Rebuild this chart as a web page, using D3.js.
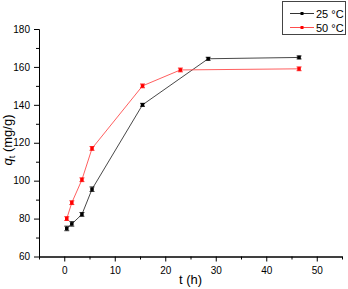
<!DOCTYPE html>
<html>
<head>
<meta charset="utf-8">
<script src="https://cdn.jsdelivr.net/npm/d3@7"></script>
<style>
  body { margin: 0; background: #fff; }
  svg { display: block; font-family: "Liberation Sans", Arial, sans-serif; }
</style>
</head>
<body>
<div class="chart"></div>
<script>
// series data
const seriesNames = ["25 °C", "50 °C"];
const time25 = [0.5, 1.5, 3.5, 5.5, 15.5, 28.5, 46.5];
const q25 = [74.8, 77.2, 82.2, 95.5, 140, 164.3, 165];
const err25 = [1.2, 1.2, 1, 1.2, 0.8, 0.8, 0.8];
const time50 = [0.5, 1.5, 3.5, 5.5, 15.5, 23, 46.5];
const q50 = [80, 88.4, 100.5, 117, 150, 158.4, 159];
const err50 = [1, 1, 1, 1, 1, 1, 1];
const xTicks = [0, 10, 20, 30, 40, 50];
const yTicks = [60, 80, 100, 120, 140, 160, 180];

const width = 348;
const height = 289;

const svg = d3.select('.chart')
  .append('svg')
  .attr('width', width)
  .attr('height', height);

const x = d3.scaleLinear().domain([-5, 55]).range([39, 342]);
const y = d3.scaleLinear().domain([60, 180]).range([256.5, 29]);

// axes, major + minor ticks
const xAxis = d3.axisBottom(x).tickValues(xTicks).tickSize(5).tickSizeOuter(0);
const xMinor = d3.axisBottom(x).tickValues(d3.range(-5, 56, 10)).tickSize(3).tickFormat('').tickSizeOuter(0);
const yAxis = d3.axisLeft(y).tickValues(yTicks).tickSize(5).tickSizeOuter(0);
const yMinor = d3.axisLeft(y).tickValues(d3.range(70, 180, 20)).tickSize(3).tickFormat('').tickSizeOuter(0);

const gx = svg.append('g').attr('transform', `translate(0,${y(60)})`).call(xAxis);
svg.append('g').attr('transform', `translate(0,${y(60)})`).call(xMinor);
const gy = svg.append('g').attr('transform', `translate(${x(-5)},0)`).call(yAxis);
svg.append('g').attr('transform', `translate(${x(-5)},0)`).call(yMinor);

svg.selectAll('.domain, .tick line').attr('stroke', '#000').attr('stroke-width', 1);
gx.selectAll('text').attr('font-size', 10).attr('fill', '#000').attr('dy', '0.9em');
gy.selectAll('text').attr('font-size', 10).attr('fill', '#000').attr('dx', '-0.1em');

// axis titles
svg.append('text')
  .attr('x', x(25))
  .attr('y', 284)
  .attr('text-anchor', 'middle')
  .attr('font-size', 13)
  .text('t (h)');

const yl = svg.append('text')
  .attr('transform', 'translate(12,140) rotate(-90)')
  .attr('text-anchor', 'middle')
  .attr('font-size', 13);
yl.append('tspan').attr('font-style', 'italic').text('q');
yl.append('tspan').attr('font-size', 9).attr('dy', 3).text('t');
yl.append('tspan').attr('dy', -3).text(' (mg/g)');

// draw one series: line, error bars, square markers
function drawSeries(ts, qs, es, lineCol, markCol){
  const pts = ts.map((t, i) => ({t: t, q: qs[i], e: es[i]}));
  const g = svg.append('g');

  g.append('path')
    .datum(pts)
    .attr('fill', 'none')
    .attr('stroke', lineCol)
    .attr('stroke-width', 0.9)
    .attr('d', d3.line().x(d => x(d.t)).y(d => y(d.q)));

  const eb = g.selectAll('g.err').data(pts).enter().append('g');
  eb.append('line')
    .attr('x1', d => x(d.t)).attr('x2', d => x(d.t))
    .attr('y1', d => y(d.q - d.e)).attr('y2', d => y(d.q + d.e))
    .attr('stroke', markCol).attr('stroke-width', 0.8);
  [-1, 1].forEach(s => {
    eb.append('line')
      .attr('x1', d => x(d.t) - 2.5).attr('x2', d => x(d.t) + 2.5)
      .attr('y1', d => y(d.q + s * d.e)).attr('y2', d => y(d.q + s * d.e))
      .attr('stroke', markCol).attr('stroke-width', 0.8);
  });

  g.selectAll('rect').data(pts).enter().append('rect')
    .attr('x', d => x(d.t) - 1.75)
    .attr('y', d => y(d.q) - 1.75)
    .attr('width', 3.5)
    .attr('height', 3.5)
    .attr('fill', markCol);
}

drawSeries(time25, q25, err25, '#333', '#000');
drawSeries(time50, q50, err50, '#ff4d4d', '#f00');

// legend
const lg = svg.append('g');
lg.append('rect')
  .attr('x', 282.5).attr('y', 1.5)
  .attr('width', 63).attr('height', 33)
  .attr('fill', '#fff')
  .attr('stroke', '#444');

[['#333', '#000'], ['#ff4d4d', '#f00']].forEach((c, i) => {
  const ly = 13.5 + i * 14;
  lg.append('line')
    .attr('x1', 290).attr('x2', 314)
    .attr('y1', ly).attr('y2', ly)
    .attr('stroke', c[0]);
  lg.append('rect')
    .attr('x', 300.5).attr('y', ly - 1.5)
    .attr('width', 3).attr('height', 3)
    .attr('fill', c[1]);
  lg.append('text')
    .attr('x', 316).attr('y', ly + 4)
    .attr('font-size', 11)
    .text(seriesNames[i]);
});
</script>
</body>
</html>
